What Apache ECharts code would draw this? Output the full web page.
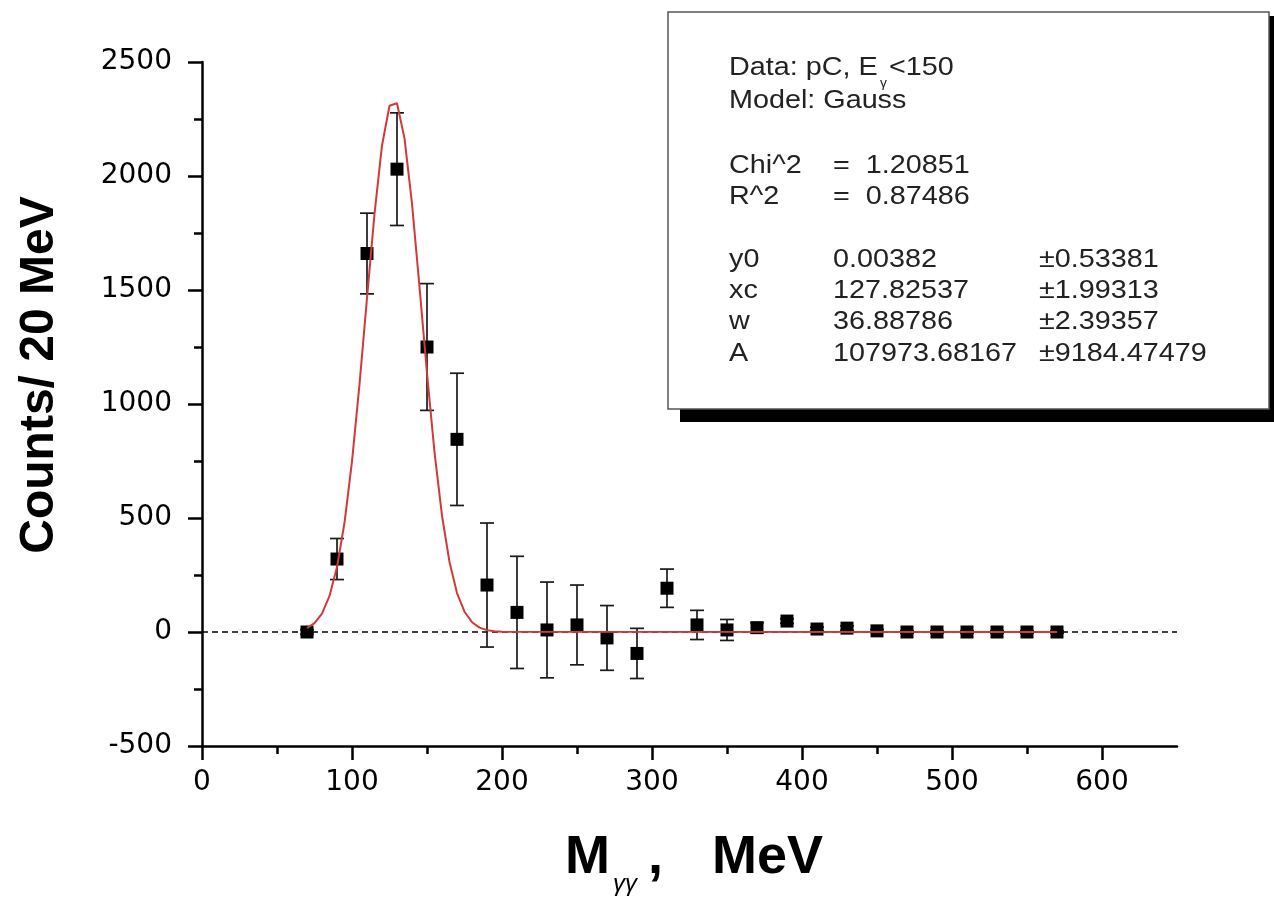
<!DOCTYPE html>
<html>
<head>
<meta charset="utf-8">
<script src="https://cdn.jsdelivr.net/npm/echarts@6/dist/echarts.min.js"></script>
<style>
  html, body { margin: 0; padding: 0; background: #fff; }
  #chart { width: 1274px; height: 899px; }
</style>
</head>
<body>
<div id="chart"></div>
<script>
// ---- data ----
const massBins = [70, 90, 110, 130, 150, 170, 190, 210, 230, 250, 270, 290, 310, 330, 350, 370, 390, 410, 430, 450, 470, 490, 510, 530, 550, 570];
const counts   = [0, 320, 1660, 2030, 1250, 845, 206, 86, 9, 31, -26, -94, 192, 31, 9, 19, 48, 13, 17, 5, 0, 0, 0, 0, 0, 0];
const errors   = [10, 90, 177, 247, 278, 290, 272, 246, 210, 175, 142, 110, 84, 64, 46, 22, 10, 8, 10, 6, 5, 5, 5, 5, 5, 5];

const fitX = [70, 75, 80, 85, 90, 95, 100, 105, 110, 115, 120, 125, 130, 135, 140, 145, 150, 155, 160, 165, 170, 175, 180, 185, 190, 195, 200, 570];
const fitY = [17, 39, 81, 158, 285, 479, 748, 1086, 1464, 1834, 2134, 2308, 2319, 2165, 1879, 1514, 1134, 789, 510, 307, 171, 89, 43, 19, 8, 3, 1, 0];

const xTickLabels = [0, 100, 200, 300, 400, 500, 600];
const yTickLabels = [-500, 0, 500, 1000, 1500, 2000, 2500];

const boxLabels = ['Chi^2', 'R^2'];
const boxStats  = ['=  1.20851', '=  0.87486'];
const paramNames  = ['y0', 'xc', 'w', 'A'];
const paramValues = ['0.00382', '127.82537', '36.88786', '107973.68167'];
const paramErrors = ['\u00B10.53381', '\u00B11.99313', '\u00B12.39357', '\u00B19184.47479'];

// ---- chart ----
const chart = echarts.init(document.getElementById('chart'), null, { renderer: 'canvas' });

const tickFont = { fontFamily: '"DejaVu Sans", sans-serif', fontSize: 28, color: '#000' };
const boxFont = '"Liberation Sans", Arial, sans-serif';
const boxScale = 1.15;

const graphics = [];
// legend box shadow + box
graphics.push({ type: 'rect', z: 100, shape: { x: 680, y: 16, width: 594, height: 406 }, style: { fill: '#000' } });
graphics.push({ type: 'rect', z: 101, shape: { x: 668, y: 12, width: 601, height: 397 }, style: { fill: '#fff', stroke: '#555', lineWidth: 1.5 } });

function boxText(txt, x, y, size) {
  graphics.push({
    type: 'text', z: 102, x: x, y: y, scaleX: boxScale,
    style: { text: txt, fontFamily: boxFont, fontSize: size || 25, fill: '#222', align: 'left', verticalAlign: 'middle' }
  });
}
boxText('Data: pC, E', 729, 68);
boxText('\u03B3', 880, 84, 12);
boxText('<150', 889, 68);
boxText('Model: Gauss', 729, 101.5);
const statY = [166, 197.5];
boxLabels.forEach((l, i) => { boxText(l, 729, statY[i]); boxText(boxStats[i], 833, statY[i]); });
const paramY = [260.5, 291.5, 322.5, 354];
paramNames.forEach((n, i) => {
  boxText(n, 729, paramY[i]);
  boxText(paramValues[i], 833, paramY[i]);
  boxText(paramErrors[i], 1039, paramY[i]);
});

// axis titles
graphics.push({
  type: 'text', x: 40, y: 375, rotation: Math.PI / 2,
  style: { text: 'Counts/ 20 MeV', fontFamily: '"Liberation Sans", Arial, sans-serif', fontWeight: 'bold', fontSize: 48, fill: '#000', align: 'center', verticalAlign: 'middle' }
});
graphics.push({ type: 'text', x: 565, y: 858, style: { text: 'M', fontFamily: '"Liberation Sans", Arial, sans-serif', fontWeight: 'bold', fontSize: 54, fill: '#000', align: 'left', verticalAlign: 'middle' } });
graphics.push({ type: 'text', x: 613, y: 884, style: { text: '\u03B3\u03B3', fontFamily: '"Liberation Sans", Arial, sans-serif', fontStyle: 'italic', fontSize: 24, fill: '#000', align: 'left', verticalAlign: 'middle' } });
graphics.push({ type: 'text', x: 648, y: 858, style: { text: ',', fontFamily: '"Liberation Sans", Arial, sans-serif', fontWeight: 'bold', fontSize: 54, fill: '#000', align: 'left', verticalAlign: 'middle' } });
graphics.push({ type: 'text', x: 712, y: 858, style: { text: 'MeV', fontFamily: '"Liberation Sans", Arial, sans-serif', fontWeight: 'bold', fontSize: 54, fill: '#000', align: 'left', verticalAlign: 'middle' } });

const axisLineStyle = { color: '#000', width: 2.5 };
const plain = function (v) { return String(v); };

const option = {
  animation: false,
  backgroundColor: '#fff',
  grid: { left: 202, right: 97, top: 62, bottom: 153, containLabel: false },
  xAxis: {
    type: 'value', min: 0, max: 650, interval: 100,
    axisLine: { show: true, onZero: false, lineStyle: axisLineStyle },
    axisTick: { show: true, inside: false, length: 14, lineStyle: axisLineStyle, customValues: xTickLabels },
    minorTick: { show: true, splitNumber: 2, length: 8, lineStyle: axisLineStyle },
    axisLabel: Object.assign({ margin: 23, customValues: xTickLabels, formatter: plain }, tickFont),
    splitLine: { show: false }, minorSplitLine: { show: false }
  },
  yAxis: {
    type: 'value', min: -500, max: 2500, interval: 500,
    axisLine: { show: true, onZero: false, lineStyle: axisLineStyle },
    axisTick: { show: true, inside: false, length: 14, lineStyle: axisLineStyle, customValues: yTickLabels },
    minorTick: { show: true, splitNumber: 2, length: 8, lineStyle: axisLineStyle },
    axisLabel: Object.assign({ margin: 30, customValues: yTickLabels, formatter: plain }, tickFont),
    splitLine: { show: false }, minorSplitLine: { show: false }
  },
  series: [
    {
      type: 'custom', name: 'errors', z: 3,
      data: massBins.map((x, i) => [x, counts[i] - errors[i], counts[i] + errors[i]]),
      encode: { x: 0, y: [1, 2] },
      renderItem: function (params, api) {
        const x = api.value(0);
        const lo = api.coord([x, api.value(1)]);
        const hi = api.coord([x, api.value(2)]);
        const hw = 7;
        const st = { stroke: '#1a1a1a', lineWidth: 1.7 };
        return {
          type: 'group', children: [
            { type: 'line', shape: { x1: lo[0], y1: lo[1], x2: hi[0], y2: hi[1] }, style: st },
            { type: 'line', shape: { x1: lo[0] - hw, y1: lo[1], x2: lo[0] + hw, y2: lo[1] }, style: st },
            { type: 'line', shape: { x1: hi[0] - hw, y1: hi[1], x2: hi[0] + hw, y2: hi[1] }, style: st }
          ]
        };
      },
      markLine: {
        silent: true, symbol: 'none', z: 1,
        label: { show: false },
        lineStyle: { color: '#000', width: 1.5, type: [6, 4] },
        data: [{ yAxis: 0 }]
      }
    },
    {
      type: 'scatter', name: 'data', z: 4,
      symbol: 'rect', symbolSize: 13,
      itemStyle: { color: '#000', opacity: 1 },
      data: massBins.map((x, i) => [x, counts[i]])
    },
    {
      type: 'line', name: 'fit', z: 5,
      showSymbol: false, smooth: false,
      lineStyle: { color: '#d03a3a', width: 2 },
      data: fitX.map((x, i) => [x, fitY[i]])
    }
  ],
  graphic: graphics
};
chart.setOption(option);
</script>
</body>
</html>
